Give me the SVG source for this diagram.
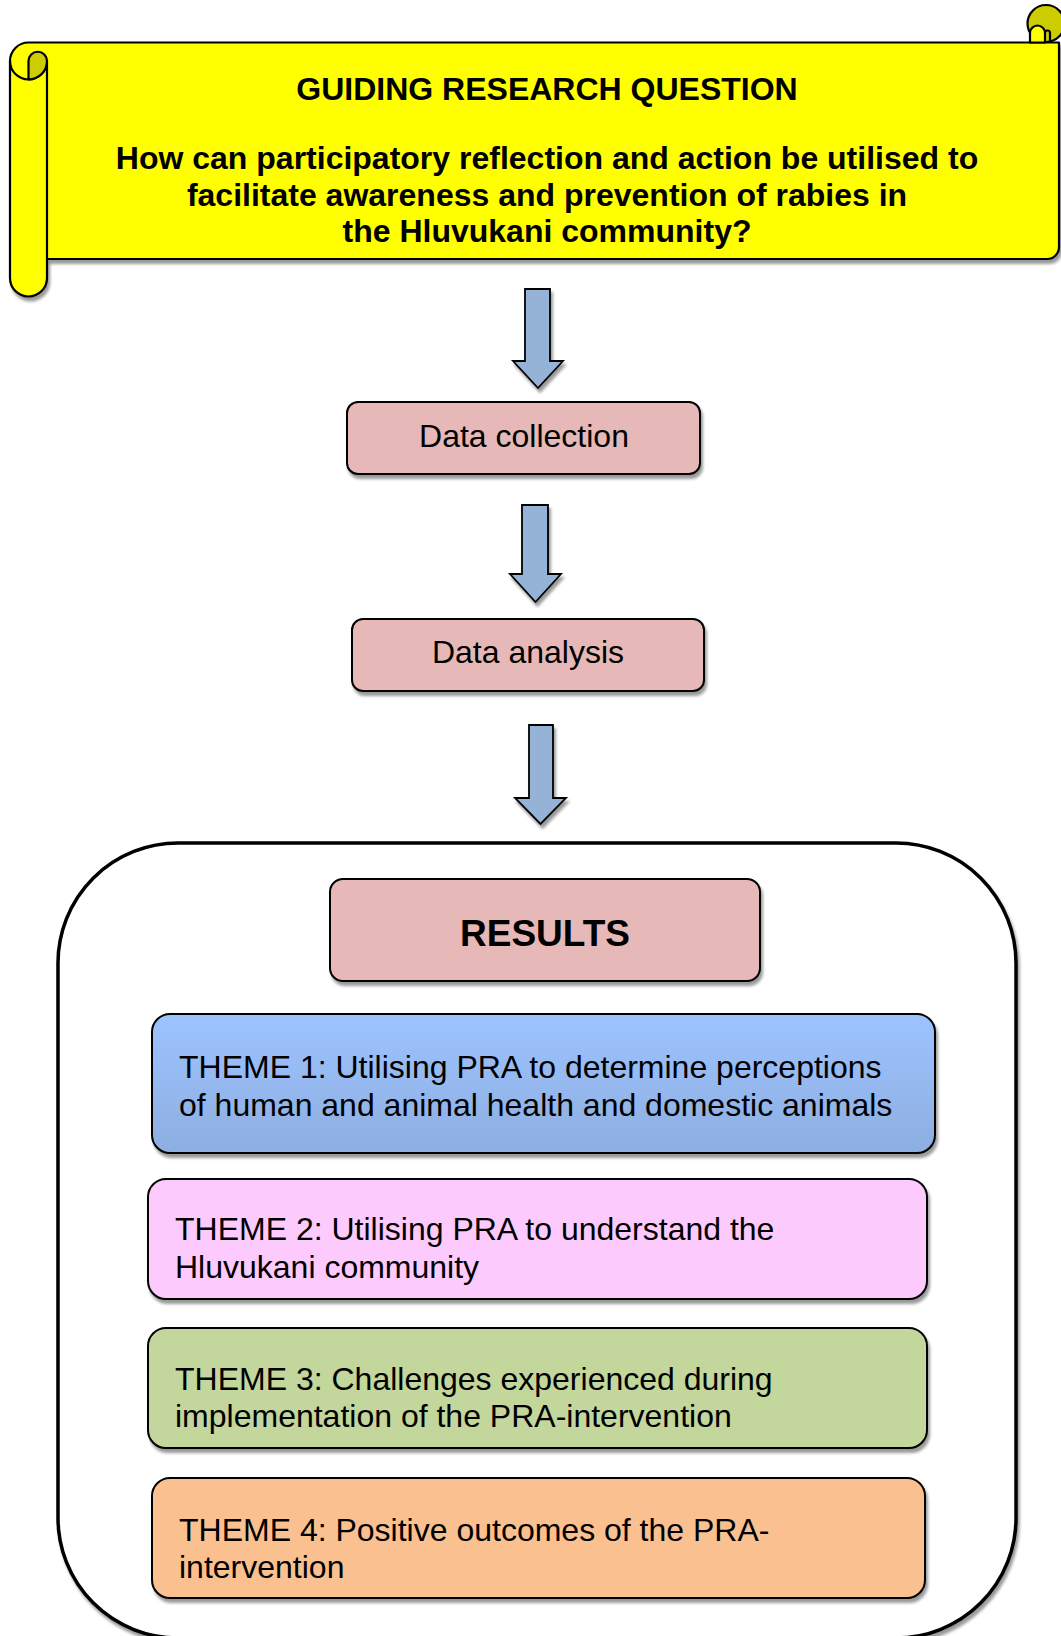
<svg xmlns="http://www.w3.org/2000/svg" width="1061" height="1636" viewBox="0 0 1061 1636">
<defs>
<filter id="sh" x="-5%" y="-5%" width="115%" height="120%">
<feGaussianBlur in="SourceAlpha" stdDeviation="1.5"/>
<feOffset dx="2" dy="4" result="o"/>
<feComponentTransfer><feFuncA type="linear" slope="0.4"/></feComponentTransfer>
<feMerge><feMergeNode/><feMergeNode in="SourceGraphic"/></feMerge>
</filter>
<linearGradient id="g1" x1="0" y1="0" x2="0" y2="1">
<stop offset="0" stop-color="#9dc3ff"/>
<stop offset="1" stop-color="#8daee0"/>
</linearGradient>
<style>
.t{font-family:"Liberation Sans",Arial,sans-serif;font-size:32px;fill:#000}
.b{font-weight:bold}
.box{stroke:#000;stroke-width:2}
.ln{stroke:#000;stroke-width:2.2;stroke-linejoin:round}
.arr{fill:#95b3d7;stroke:#000;stroke-width:1.8;stroke-linejoin:miter}
</style>
</defs>
<rect width="1061" height="1636" fill="#fff"/>

<g id="scroll">
<g filter="url(#sh)">
<path d="M10,61 A18.5,18.5 0 0 1 28.5,42.5 H1059 V247 A12,12 0 0 1 1047,259 H47 V278 A18.5,18.5 0 0 1 10,278 Z" fill="#ffff00" class="ln"/>
</g>
<path d="M10,61 A18.5,18.5 0 0 0 47,61 M47,61 V259" fill="none" class="ln"/>
<path d="M28.5,61 A9.25,9.25 0 0 1 47,61 A18.5,18.5 0 0 1 28.5,79.5 Z" fill="#cccc00" class="ln"/>
<circle cx="1046" cy="23.5" r="18.5" fill="#cccc00" class="ln"/>
<path d="M1030,42.5 V33 A7.5,7.5 0 0 1 1045,33 V42.5 Z" fill="#ffff00" class="ln"/>
<path d="M1045,33 A2.5,2.5 0 0 1 1050,33 V42.5" fill="none" class="ln"/>
<text class="t b" x="547" y="100" text-anchor="middle">GUIDING RESEARCH QUESTION</text>
<text class="t b" x="547" y="169" text-anchor="middle">How can participatory reflection and action be utilised to</text>
<text class="t b" x="547" y="205.5" text-anchor="middle">facilitate awareness and prevention of rabies in</text>
<text class="t b" x="547" y="242" text-anchor="middle">the Hluvukani community?</text>
</g>

<g id="connectors" filter="url(#sh)">
<polygon class="arr" points="525,289 550,289 550,361 563,361 538,388 513,361 525,361"/>
<polygon class="arr" points="522,505 548,505 548,574 561,574 535.5,602 510,574 522,574"/>
<polygon class="arr" points="529,725 553,725 553,798 566,798 540.5,824 515,798 529,798"/>
</g>

<g id="data-collection">
<rect class="box" x="347" y="402" width="353" height="72" rx="11" fill="#e6b8b7" filter="url(#sh)"/>
<text class="t" x="524" y="447" text-anchor="middle">Data collection</text>
</g>

<g id="data-analysis">
<rect class="box" x="352" y="619" width="352" height="72" rx="11" fill="#e6b8b7" filter="url(#sh)"/>
<text class="t" x="528" y="663" text-anchor="middle">Data analysis</text>
</g>

<g id="results-container">
<rect x="58" y="843" width="958" height="795" rx="120" fill="#fff" stroke="#000" stroke-width="3.5" filter="url(#sh)"/>
</g>

<g id="results">
<rect class="box" x="330" y="879" width="430" height="102" rx="13" fill="#e6b8b7" filter="url(#sh)"/>
<text class="t b" x="545" y="946" text-anchor="middle" style="font-size:37px">RESULTS</text>
</g>

<g id="theme1">
<rect class="box" x="152" y="1014" width="783" height="139" rx="18" fill="url(#g1)" filter="url(#sh)"/>
<text class="t" x="179" y="1078">THEME 1: Utilising PRA to determine perceptions</text>
<text class="t" x="179" y="1115.5">of human and animal health and domestic animals</text>
</g>

<g id="theme2">
<rect class="box" x="148" y="1179" width="779" height="120" rx="18" fill="#fccafc" filter="url(#sh)"/>
<text class="t" x="175" y="1240">THEME 2: Utilising PRA to understand the</text>
<text class="t" x="175" y="1277.5">Hluvukani community</text>
</g>

<g id="theme3">
<rect class="box" x="148" y="1328" width="779" height="120" rx="18" fill="#c3d69b" filter="url(#sh)"/>
<text class="t" x="175" y="1389.5">THEME 3: Challenges experienced during</text>
<text class="t" x="175" y="1427">implementation of the PRA-intervention</text>
</g>

<g id="theme4">
<rect class="box" x="152" y="1478" width="773" height="120" rx="18" fill="#fac090" filter="url(#sh)"/>
<text class="t" x="179" y="1540.5">THEME 4: Positive outcomes of the PRA-</text>
<text class="t" x="179" y="1578">intervention</text>
</g>
</svg>
